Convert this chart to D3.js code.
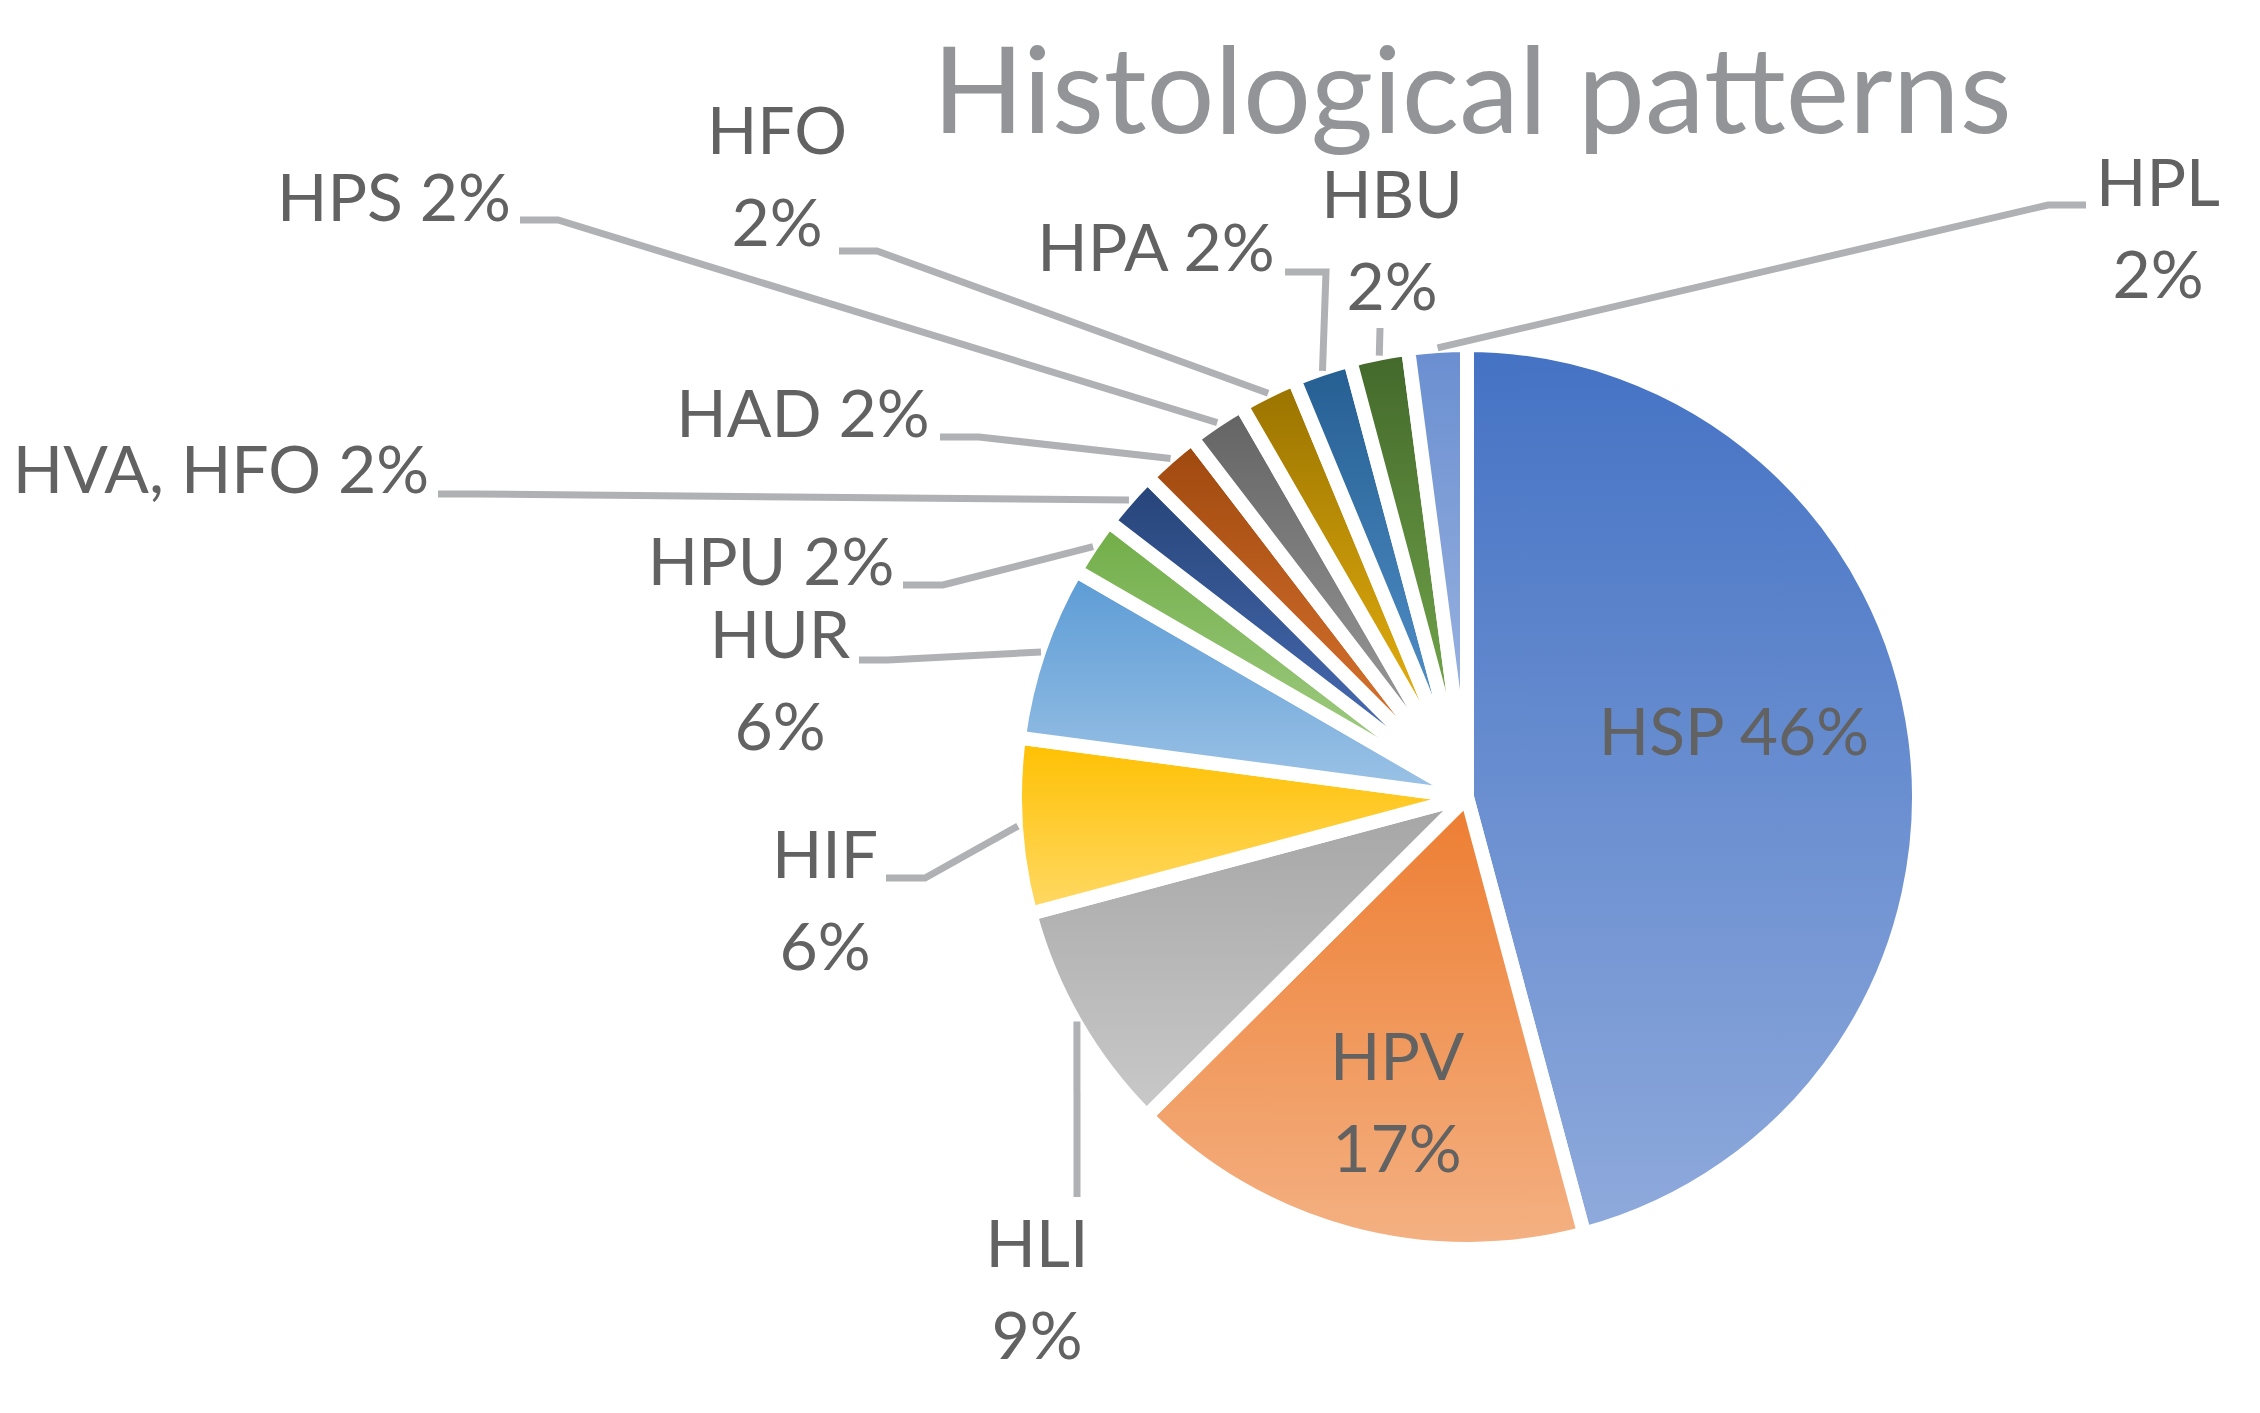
<!DOCTYPE html>
<head>
    <title>Histological patterns</title>
    <script src="https://d3js.org/d3.v7.min.js"></script>
    <style>
        body {
            margin: 0;
            background-color: #ffffff;
        }
        text {
            font-family: Lato, "Open Sans", sans-serif;
        }
    </style>
</head>

<body>
    <div class="container"></div>
    <script>
        // slice sizes, printed percentages as shown
        const categories = ["HSP", "HPV", "HLI", "HIF", "HUR", "HPU", "HVA, HFO", "HAD", "HPS", "HFO", "HPA", "HBU", "HPL"];
        const values = [45.8, 16.7, 8.3, 6.25, 6.25, 2.08, 2.08, 2.08, 2.08, 2.08, 2.08, 2.08, 2.08];
        const pctLabels = ["46%", "17%", "9%", "6%", "6%", "2%", "2%", "2%", "2%", "2%", "2%", "2%", "2%"];
        const topColors = ["#4472C4", "#ED7D31", "#A5A5A5", "#FFC000", "#5B9BD5", "#70AD47", "#264478", "#9E480E", "#636363", "#997300", "#255E91", "#43682B", "#698ED0"];
        const bottomColors = ["#8FAADC", "#F4B183", "#C9C9C9", "#FFD966", "#9DC3E6", "#A9D18E", "#4F73BE", "#E47C36", "#A5A5A5", "#F7BD12", "#5B9BD5", "#7DB452", "#A5BBE4"];

        // where each data label sits (Excel placed them by hand-ish)
        // two: label split on two lines, start/elbow: leader line from label to slice
        const labelLayout = [
            { x: 1734, y: 755, two: false },
            { x: 1397, y: 1080, two: true },
            { x: 1037, y: 1267, two: true, start: [1077, 1197] },
            { x: 825, y: 878, two: true, start: [886, 878], elbow: [925, 878] },
            { x: 780, y: 658, two: true, start: [859, 660], elbow: [888, 660] },
            { x: 771, y: 585, two: false, start: [903, 585], elbow: [943, 585] },
            { x: 221, y: 493, two: false, start: [438, 494], elbow: [476, 494] },
            { x: 803, y: 437, two: false, start: [940, 437], elbow: [979, 437] },
            { x: 394, y: 221, two: false, start: [520, 220], elbow: [558, 220] },
            { x: 777, y: 154, two: true, start: [839, 251], elbow: [877, 251] },
            { x: 1156, y: 271, two: false, start: [1285, 272], elbow: [1326, 272] },
            { x: 1392, y: 218, two: true, start: [1380, 328] },
            { x: 2158, y: 206, two: true, start: [2086, 205], elbow: [2048, 205] }
        ];

        function drawChart(container) {
            const width = 2260;
            const height = 1413;
            const cx = 1467;
            const cy = 797;
            const radius = 452;
            const lineHeight = 92;

            const data = categories.map((c, i) => ({
                name: c,
                value: values[i],
                pct: pctLabels[i],
                top: topColors[i],
                bottom: bottomColors[i],
                layout: labelLayout[i]
            }));

            const svg = d3.select(container).append('svg')
                .attr('width', width)
                .attr('height', height);

            const defs = svg.append('defs');
            data.forEach((d, i) => {
                const grad = defs.append('linearGradient')
                    .attr('id', 'grad' + i)
                    .attr('x1', 0).attr('y1', 0)
                    .attr('x2', 0).attr('y2', 1);
                grad.append('stop').attr('offset', '0%').attr('stop-color', d.top);
                grad.append('stop').attr('offset', '100%').attr('stop-color', d.bottom);
            });

            const pie = d3.pie()
                .sort(null)
                .value(d => d.value);

            const arc = d3.arc()
                .innerRadius(0)
                .outerRadius(radius);

            const arcs = pie(data);

            const g = svg.append('g')
                .attr('transform', `translate(${cx}, ${cy})`);

            g.selectAll('path')
                .data(arcs)
                .enter()
                .append('path')
                .attr('d', arc)
                .attr('fill', (d, i) => `url(#grad${i})`)
                .attr('stroke', '#ffffff')
                .attr('stroke-width', 14)
                .attr('stroke-linejoin', 'round');

            // leader lines end just outside the slice, on its middle angle
            const leaderR = 450;
            const leaders = arcs.filter(d => d.data.layout.start);
            svg.selectAll('.leader')
                .data(leaders)
                .enter()
                .append('polyline')
                .attr('class', 'leader')
                .attr('fill', 'none')
                .attr('stroke', '#B0B1B5')
                .attr('stroke-width', 7)
                .attr('points', d => {
                    const a = (d.startAngle + d.endAngle) / 2;
                    const end = [cx + leaderR * Math.sin(a), cy - leaderR * Math.cos(a)];
                    const l = d.data.layout;
                    const pts = [l.start];
                    if (l.elbow) pts.push(l.elbow);
                    pts.push(end);
                    return pts.map(p => p.join(',')).join(' ');
                });

            const labels = svg.selectAll('.label')
                .data(data)
                .enter()
                .append('text')
                .attr('class', 'label')
                .attr('text-anchor', 'middle')
                .attr('fill', '#626262')
                .attr('font-size', 66)
                .attr('x', d => d.layout.x)
                .attr('y', d => d.layout.y);

            labels.each(function (d) {
                const t = d3.select(this);
                if (d.layout.two) {
                    t.append('tspan').attr('x', d.layout.x).text(d.name);
                    t.append('tspan').attr('x', d.layout.x).attr('dy', lineHeight).text(d.pct);
                } else {
                    t.text(d.name + ' ' + d.pct);
                }
            });

            svg.append('text')
                .attr('x', 1472)
                .attr('y', 133)
                .attr('text-anchor', 'middle')
                .attr('fill', '#929497')
                .attr('font-size', 120)
                .text('Histological patterns');
        }

        drawChart('.container');
    </script>
</body>

</html>
